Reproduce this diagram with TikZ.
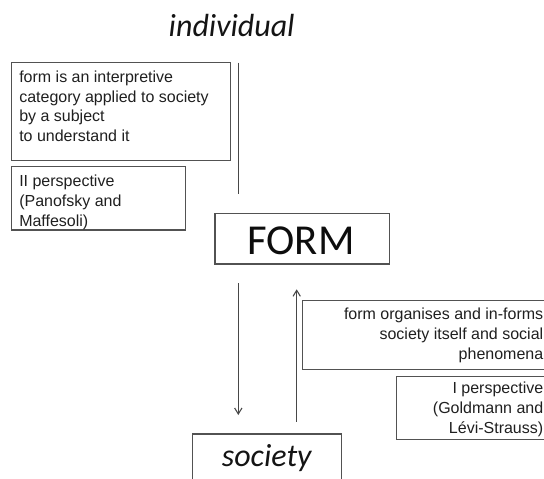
\documentclass[tikz,border=0pt]{standalone}
\usepackage{fontspec}
\setmainfont{Liberation Sans}
\newfontfamily\calib{Carlito}
\usetikzlibrary{arrows.meta,fit}
\tikzset{
  boxst/.style={draw=black!68, line width=0.95pt, inner sep=0pt, rectangle},
  bodytext/.style={inner sep=0pt, text=black!88, font=\fontsize{12}{14.8}\selectfont},
  linkline/.style={draw=black!72, line width=0.8pt},
  arr/.style={linkline, -{Straight Barb[length=4.5pt,width=5.5pt]}},
  bigital/.style={inner sep=0pt, text=black!92, font=\calib\itshape\fontsize{24}{28}\selectfont}
}
\begin{document}
\begin{tikzpicture}[x=0.75pt,y=-0.75pt]
\useasboundingbox (0,0) rectangle (544,479);
\clip (0,0) rectangle (544,479);
% title
\node (indiv) [bigital, anchor=base] at (231.7,36) {individual};
% left boxes
\node (b1) [boxst, fit={(11.7,62.7)(230.7,160.7)}] {};
\node (t1) [bodytext, anchor=base west, align=left] at (19,141.7)
  {form is an interpretive\\category applied to society\\by a subject\\to understand it};
\node (b2) [boxst, fit={(11.7,166.7)(185.7,230)}] {};
\node (t2) [bodytext, anchor=base west, align=left] at (19,226)
  {II perspective\\(Panofsky and\\Maffesoli)};
% individual line
\coordinate (l1a) at (238.3,62.7);
\coordinate (l1b) at (238.3,194);
\draw[linkline] (l1a) -- (l1b);
% FORM
\node (form) [boxst, fit={(215,213.3)(389.3,264)}] {};
\node (formt) [inner sep=0pt, anchor=base, font=\calib\fontsize{32}{38}\selectfont, text=black!95] at (301,254) {FORM};
% society
\node (soc) [boxst, fit={(192.7,434)(341.7,520)}] {};
\node (soct) [bigital, anchor=base] at (266.7,466.7) {society};
% arrows
\coordinate (d1) at (238.3,283);
\coordinate (d2) at (238.3,415);
\draw[arr] (d1) -- (d2);
\coordinate (u1) at (296.7,421.7);
\coordinate (u2) at (296.7,289.3);
\draw[arr] (u1) -- (u2);
% right boxes
\node (b3) [boxst, fit={(302.7,300.7)(560,369.3)}] {};
\node (t3) [bodytext, anchor=base east, align=right, font=\fontsize{12}{15}\selectfont] at (543.5,359.3)
  {form organises and in-forms\\society itself and social\\phenomena};
\node (b4) [boxst, fit={(396.7,376.7)(560,439.3)}] {};
\node (t4) [bodytext, anchor=base east, align=right, font=\fontsize{12}{14.8}\selectfont] at (543.5,433.3)
  {I perspective\\(Goldmann and\\Lévi-Strauss)};
\end{tikzpicture}
\end{document}
